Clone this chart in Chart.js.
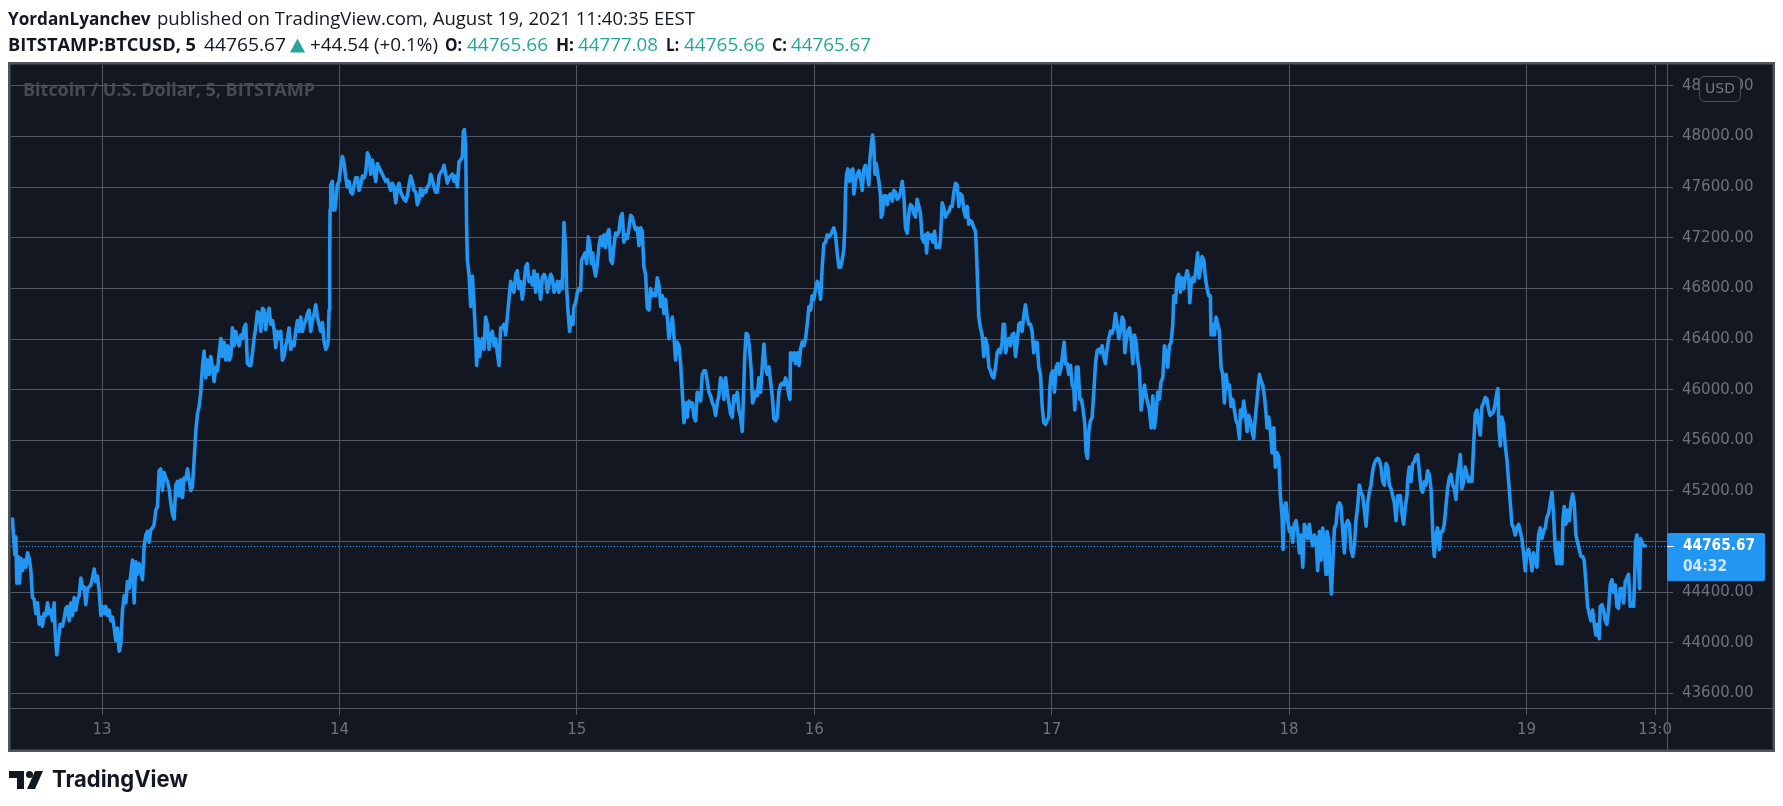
<!DOCTYPE html>
<html><head><meta charset="utf-8">
<style>html,body{margin:0;padding:0;background:#fff;overflow:hidden}canvas{display:block}</style>
<script src="https://cdn.jsdelivr.net/npm/chart.js@4.4.0/dist/chart.umd.min.js"></script>
</head><body>
<canvas id="c" width="1783" height="806"></canvas>
<script>
// ---- time axis (hours since 12 Aug 00:00) and BTCUSD prices ----
const timesA = [14.95,15.05,15.19,15.29,15.39,15.53,15.66,15.80,15.96,16.13,
16.30,16.47,16.64,16.81,16.97,17.14,17.31,17.48,17.65,17.82,
17.98,18.15,18.32,18.49,18.66,18.83,18.99,19.16,19.26,19.43,
19.60,19.77,20.01,20.17,20.34,20.51,20.68,20.85,21.02,21.18,
21.35,21.52,21.69,21.86,22.03,22.20,22.36,22.53,22.70,22.87,
23.04,23.21,23.37,23.54,23.71,23.88,24.05,24.22,24.38,24.55,
24.72,24.89,25.06,25.23,25.39,25.56,25.73,25.90,26.07,26.24,
26.41,26.57,26.74,26.91,27.08,27.25,27.42,27.58,27.75,27.92,
28.09,28.26,28.43,28.59,28.76,28.93,29.10,29.27,29.44,29.61,
29.77,29.94,30.11,30.28,30.45,30.62,30.78,30.95,31.12,31.29,
31.46,31.63,31.79,31.96,32.13,32.30,32.47,32.64,32.81,32.97,
33.14,33.31,33.48,33.65,33.82,33.98,34.15,34.32,34.49,34.66,
34.83,34.99,35.16,35.33,35.50,35.67,35.84,36.01,36.17,36.34,
36.51,36.68,36.85,37.02,37.18,37.35,37.52,37.69,37.86,38.03,
38.20,38.36,38.53,38.70,38.87,39.04,39.21,39.37,39.54,39.71,
39.88,40.05,40.22,40.38,40.55,40.72,40.89,41.06,41.23,41.40,
41.56,41.73,41.90];
const pricesA = [44979,44852,44697,44838,44471,44683,44471,44668,44570,44654,
44598,44711,44668,44570,44358,44344,44231,44316,44147,44203,
44133,44231,44217,44316,44231,44259,44175,44316,44090,43907,
44034,44147,44133,44189,44274,44288,44175,44316,44217,44358,
44259,44344,44372,44513,44429,44443,44302,44429,44443,44457,
44513,44584,44485,44527,44415,44217,44288,44231,44288,44217,
44259,44175,44203,44118,44020,44118,43935,43991,44259,44372,
44316,44485,44429,44542,44654,44316,44640,44542,44626,44570,
44499,44767,44852,44880,44795,44894,44908,44937,45049,45077,
45360,45374,45205,45345,45303,45275,45219,45106,45021,44979,
45247,45275,45162,45289,45148,45303,45289,45374,45289,45204,
45233,45444,45670,45811,45867,45980,46178,46305,46093,46234,
46121,46262,46178,46065,46178,46149,46291,46403,46262,46375,
46234,46347,46234,46262,46488,46347,46460,46389,46347,46432,
46403,46488,46516,46206,46192,46192,46291,46403,46488,46615,
46601,46460,46643,46629,46474,46573,46643,46516,46545,46474,
46333,46460,46403];

const timesB = [42.07,42.24,42.40,42.57,42.74,42.91,43.08,43.25,43.42,43.58,
43.75,43.92,44.09,44.26,44.43,44.59,44.76,44.93,45.10,45.27,
45.44,45.60,45.77,45.94,46.11,46.28,46.45,46.62,46.78,46.88,
46.95,47.02,47.05,47.12,47.29,47.39,47.54,47.66,47.79,47.96,
48.13,48.30,48.47,48.64,48.80,48.97,49.14,49.31,49.48,49.65,
49.82,49.98,50.15,50.32,50.49,50.66,50.83,50.99,51.16,51.33,
51.50,51.67,51.84,52.00,52.17,52.34,52.51,52.68,52.85,53.02,
53.18,53.35,53.52,53.69,53.86,54.03,54.19,54.36,54.53,54.70,
54.87,55.04,55.20,55.37,55.54,55.71,55.88,56.05,56.22,56.38,
56.55,56.72,56.89,57.06,57.23,57.39,57.56,57.73,57.90,58.07,
58.24,58.40,58.57,58.74,58.91,59.08,59.25,59.42,59.58,59.75,
59.92,60.09,60.26,60.43,60.53,60.63,60.76,60.86,60.93,61.10,
61.27,61.44,61.60,61.77,61.87,62.01,62.18,62.28,62.45,62.62,
62.78,62.95,63.12,63.29,63.46,63.63,63.79,63.96,64.13,64.30,
64.47,64.64,64.80,64.97,65.14,65.31,65.48,65.65,65.82,65.98,
66.15,66.32,66.49,66.66,66.83,66.99,67.16,67.33,67.50,67.67,
67.84,68.00,68.17,68.34,68.51,68.68,68.85,69.02,69.18,69.35,
69.52,69.69,69.86,70.03,70.19];
const pricesB = [46460,46234,46262,46347,46403,46488,46319,46375,46347,46460,
46545,46460,46573,46460,46516,46545,46601,46629,46460,46545,
46601,46671,46573,46516,46460,46530,46375,46319,46347,46403,
46629,47080,47419,47616,47645,47419,47419,47504,47616,47645,
47757,47842,47786,47673,47602,47645,47560,47546,47616,47673,
47673,47574,47616,47687,47673,47715,47870,47842,47701,47814,
47729,47645,47786,47757,47729,47701,47673,47645,47659,47616,
47574,47630,47602,47475,47588,47630,47560,47532,47504,47489,
47532,47616,47687,47645,47574,47560,47461,47504,47588,47532,
47574,47560,47602,47616,47701,47659,47602,47560,47560,47687,
47715,47729,47772,47701,47630,47673,47687,47701,47645,47687,
47602,47800,47814,47842,48040,48054,47927,47278,47024,46911,
46657,46897,46686,46403,46192,46403,46262,46347,46403,46319,
46573,46516,46319,46432,46460,46347,46403,46291,46192,46488,
46488,46516,46432,46573,46714,46855,46798,46770,46911,46939,
46798,46855,46714,46827,46968,46996,46855,46883,46827,46939,
46770,46911,46827,46714,46883,46911,46883,46770,46827,46911,
46883,46770,46798,46855,46770];

const timesC = [70.36,70.53,70.70,70.87,70.97,71.10,71.27,71.44,71.61,71.71,
71.88,72.05,72.22,72.38,72.48,72.65,72.82,72.99,73.16,73.33,
73.46,73.60,73.73,73.90,74.07,74.24,74.40,74.57,74.74,74.91,
75.08,75.25,75.41,75.58,75.75,75.92,76.09,76.26,76.43,76.59,
76.76,76.93,77.10,77.27,77.44,77.60,77.77,77.94,78.11,78.28,
78.45,78.61,78.78,78.95,79.12,79.29,79.46,79.63,79.79,79.96,
80.13,80.30,80.47,80.64,80.80,80.97,81.14,81.31,81.48,81.65,
81.81,81.98,82.15,82.32,82.49,82.66,82.83,82.99,83.16,83.33,
83.50,83.67,83.84,84.00,84.17,84.34,84.51,84.68,84.85,85.01,
85.18,85.35,85.52,85.69,85.86,86.03,86.19,86.36,86.53,86.70,
86.87,87.04,87.20,87.37,87.54,87.71,87.88,88.05,88.22,88.38,
88.55,88.72,88.89,88.99,89.12,89.29,89.46,89.63,89.76,89.90,
90.07,90.24,90.40,90.57,90.74,90.91,91.08,91.25,91.42,91.58,
91.75,91.92,92.09,92.26,92.42,92.59,92.76,92.93,93.10,93.27,
93.44,93.54,93.60,93.77,93.94,94.11,94.28,94.45,94.61,94.78,
94.95,95.12,95.29,95.46,95.63,95.79,95.96,96.13,96.30,96.47,
96.64,96.80,96.97,97.14,97.31,97.48,97.65,97.82,97.98,98.15,
98.32,98.49];
const pricesC = [46855,46798,47320,47109,46798,46629,46460,46573,46516,46657,
46686,46770,46798,46784,47024,47052,47080,46996,47207,47137,
46996,47080,46968,46897,46996,47137,47207,47137,47222,47123,
47236,47264,47024,46996,47137,47236,47222,47250,47363,47391,
47165,47222,47193,47278,47377,47363,47306,47264,47278,47137,
47278,47250,46968,46911,46643,46629,46798,46742,46756,46742,
46883,46827,46657,46742,46601,46714,46573,46403,46488,46573,
46432,46234,46375,46347,46206,45980,45740,45896,45783,45910,
45867,45896,45783,45754,45980,45924,45910,46121,46149,46149,
46065,45980,45952,45896,45867,45797,45896,45952,46093,46065,
45924,46093,45980,45896,45811,45783,45952,45910,45980,45839,
45783,45670,46065,46291,46446,46432,46319,46149,45896,45924,
45980,45952,46093,45980,46178,46361,46178,46121,46178,46065,
45952,45769,45754,45783,45980,46037,46051,46037,46093,46037,
45952,45924,46291,46234,46291,46206,46291,46192,46319,46375,
46347,46403,46516,46657,46629,46742,46714,46798,46855,46827,
46714,46968,47151,47165,47222,47207,47222,47250,47278,47222,
47080,46968];

const timesD = [98.66,98.82,98.99,99.09,99.16,99.26,99.40,99.57,99.73,99.90,
100.00,100.17,100.34,100.51,100.68,100.85,101.01,101.18,101.35,101.52,
101.62,101.76,101.89,102.02,102.13,102.26,102.36,102.53,102.70,102.77,
102.90,103.04,103.20,103.37,103.54,103.71,103.88,104.05,104.21,104.38,
104.55,104.72,104.89,105.06,105.22,105.39,105.56,105.73,105.90,106.07,
106.24,106.40,106.57,106.74,106.91,107.08,107.25,107.35,107.48,107.65,
107.82,107.99,108.16,108.32,108.49,108.66,108.76,108.93,109.10,109.27,
109.43,109.60,109.77,109.94,110.11,110.28,110.45,110.61,110.78,110.95,
111.12,111.29,111.46,111.62,111.79,111.96,112.13,112.30,112.40,112.53,
112.63,112.80,112.97,113.14,113.31,113.48,113.65,113.81,113.98,114.15,
114.32,114.49,114.66,114.82,114.99,115.09,115.23,115.36,115.50,115.67,
115.83,116.00,116.17,116.34,116.51,116.68,116.85,117.01,117.18,117.35,
117.52,117.69,117.86,118.02,118.19,118.36,118.53,118.70,118.87,119.04,
119.20,119.37,119.54,119.71,119.81,119.94,120.11,120.28,120.45,120.62,
120.79,120.95,121.12,121.26,121.39,121.56,121.73,121.90,122.07,122.24,
122.34,122.50,122.67,122.84,123.01,123.18,123.35,123.48,123.62,123.75,
123.92,124.09,124.26,124.43,124.59,124.76,124.93,125.10,125.27,125.43,
125.60,125.77,125.94,126.11,126.28,126.45,126.61,126.78];
const pricesD = [46968,47024,47109,47278,47560,47701,47743,47645,47729,47743,
47546,47645,47701,47729,47673,47574,47743,47772,47701,47616,
47814,47927,48011,47927,47701,47786,47729,47645,47532,47363,
47391,47532,47532,47461,47532,47546,47489,47574,47560,47504,
47518,47560,47645,47532,47278,47236,47391,47461,47447,47391,
47363,47504,47447,47391,47193,47165,47222,47080,47236,47193,
47222,47165,47250,47123,47137,47123,47193,47475,47433,47363,
47391,47405,47447,47447,47560,47630,47616,47447,47546,47532,
47419,47363,47447,47306,47334,47320,47278,47250,47080,46798,
46573,46488,46432,46262,46403,46347,46178,46149,46107,46093,
46178,46291,46319,46291,46375,46516,46516,46291,46375,46403,
46347,46432,46446,46262,46375,46516,46530,46460,46587,46671,
46573,46516,46516,46460,46291,46375,46375,46178,46121,45867,
45740,45726,45754,45783,46008,46121,46149,45980,46178,46206,
46121,46178,46291,46375,46206,46206,46121,46192,46037,46008,
45839,46178,46178,45924,45924,45839,45726,45501,45458,45670,
45754,45783,45980,46206,46305,46319,46291,46347,46262,46206,
46319,46403,46460,46446,46488,46601,46516,46403];

const timesE = [126.95,127.12,127.29,127.39,127.52,127.69,127.86,128.03,128.20,128.36,
128.53,128.70,128.87,129.04,129.21,129.38,129.54,129.71,129.88,130.05,
130.22,130.39,130.55,130.72,130.89,131.06,131.23,131.40,131.56,131.73,
131.90,132.07,132.24,132.34,132.51,132.68,132.84,133.01,133.18,133.35,
133.52,133.69,133.86,133.96,134.09,134.26,134.43,134.60,134.76,134.90,
135.03,135.20,135.37,135.54,135.71,135.88,136.04,136.11,136.28,136.45,
136.62,136.79,136.95,137.12,137.29,137.46,137.63,137.80,137.96,138.13,
138.30,138.47,138.64,138.81,138.98,139.08,139.24,139.41,139.58,139.75,
139.92,140.09,140.26,140.42,140.52,140.66,140.83,141.00,141.17,141.33,
141.50,141.67,141.77,141.94,142.11,142.28,142.45,142.61,142.78,142.95,
143.12,143.29,143.39,143.52,143.69,143.86,144.03,144.20,144.36,144.53,
144.70,144.87,145.04,145.21,145.38,145.54,145.71,145.88,146.05,146.22,
146.39,146.55,146.72,146.89,147.06,147.23,147.40,147.56,147.73,147.83,
148.00,148.17,148.27,148.41,148.58,148.74,148.91,149.08,149.25,149.42,
149.59,149.75,149.92,150.09,150.26,150.43,150.60,150.76,150.93,151.10,
151.27,151.44,151.61,151.78,151.94,152.11,152.28,152.45,152.62,152.79,
152.95,153.12,153.29,153.46,153.63,153.80,153.97,154.13,154.30,154.47,
154.64,154.81,154.98,155.14];
const pricesE = [46460,46573,46545,46291,46375,46460,46488,46403,46206,46432,
46375,46234,46149,45839,45952,46037,45952,45896,45839,45698,
45952,45698,45811,45980,45924,46065,46093,46347,46291,46178,
46347,46375,46516,46742,46686,46883,46911,46770,46883,46798,
46883,46939,46883,46686,46827,46883,46855,46968,47080,46883,
46939,47052,47024,46883,46798,46742,46742,46432,46516,46432,
46573,46516,46460,46178,46121,45896,46121,46008,46037,45867,
45924,45839,45754,45726,45613,45839,45783,45910,45811,45670,
45797,45754,45670,45613,45726,45839,45980,46121,46065,46037,
45952,45811,45698,45783,45670,45501,45698,45388,45501,45472,
45162,44993,44739,45077,45106,44965,44880,44908,44795,44937,
44965,44880,44711,44852,44598,44937,44908,44824,44937,44824,
44767,44852,44824,44570,44880,44654,44908,44739,44542,44880,
44824,44542,44386,44626,44908,44937,45077,45106,45077,44880,
44711,44937,44965,44937,44739,44683,44767,44965,45077,45247,
45190,45162,45049,44922,45106,45190,45247,45360,45416,45444,
45458,45444,45388,45275,45247,45416,45388,45247,45219,45162,
45106,44965,45162,45134];

const timesF = [155.24,155.41,155.58,155.75,155.91,156.01,156.15,156.32,156.49,156.65,
156.82,156.99,157.16,157.33,157.50,157.67,157.83,158.00,158.17,158.34,
158.44,158.54,158.68,158.84,159.01,159.18,159.35,159.52,159.69,159.85,
160.02,160.19,160.36,160.53,160.70,160.87,161.03,161.20,161.30,161.47,
161.64,161.81,161.98,162.15,162.31,162.48,162.65,162.82,162.99,163.16,
163.32,163.49,163.66,163.83,164.00,164.17,164.33,164.50,164.67,164.84,
165.01,165.11,165.21,165.35,165.51,165.68,165.85,166.02,166.19,166.36,
166.52,166.69,166.86,167.03,167.20,167.37,167.53,167.70,167.87,168.04,
168.21,168.38,168.55,168.71,168.88,169.05,169.22,169.39,169.56,169.72,
169.89,170.06,170.23,170.40,170.57,170.73,170.90,171.07,171.24,171.41,
171.58,171.68,171.81,171.98,172.15,172.32,172.49,172.66,172.82,172.99,
173.16,173.33,173.50,173.67,173.83,174.00,174.17,174.34,174.51,174.68,
174.85,175.01,175.18,175.35,175.45,175.62,175.79,175.96,176.12,176.29,
176.46,176.63,176.80,176.97,177.13,177.30,177.47,177.64,177.81,177.98,
178.15,178.31,178.48,178.65,178.82,178.92,179.02,179.16,179.32,179.43,
179.53,179.66,179.83,180.00];
const pricesF = [45162,45021,44937,45077,45162,45303,45388,45275,45416,45430,
45472,45487,45360,45219,45190,45275,45247,45360,45331,45219,
45049,44824,44683,44852,44908,44739,44880,44880,44937,45077,
45219,45303,45331,45247,45219,45134,45331,45416,45487,45219,
45275,45388,45331,45275,45303,45275,45557,45811,45839,45726,
45642,45867,45896,45938,45924,45839,45797,45811,45825,45896,
45980,46008,45698,45557,45783,45726,45557,45444,45275,45106,
44937,44908,44852,44908,44937,44880,44824,44711,44570,44711,
44739,44683,44570,44711,44654,44598,44852,44908,44824,44880,
44908,44993,45021,45106,45190,45021,44739,44626,44795,44626,
44626,44965,45077,44937,45049,44965,45106,45176,45106,44852,
44795,44739,44683,44683,44654,44485,44288,44231,44175,44259,
44147,44062,44147,44034,44288,44302,44259,44175,44147,44259,
44457,44499,44401,44457,44288,44274,44429,44429,44316,44485,
44513,44542,44288,44316,44288,44485,44795,44852,44626,44429,
44824,44795,44767,44765.67];

// ---- axes / labels ----
const yTicks = [43600,44000,44400,44800,45200,45600,46000,46400,46800,47200,47600,48000,48400];
const xTickHours = [24,48,72,96,120,144,168,181];
const xTickLabels = ['13','14','15','16','17','18','19','13:0'];
const lastPrice = 44765.67;
const countdown = '04:32';

const times = [].concat(timesA,timesB,timesC,timesD,timesE,timesF);
const prices = [].concat(pricesA,pricesB,pricesC,pricesD,pricesE,pricesF);

// ---- styling ----
const W = 1783, H = 806;
const BG = '#131722', GRID = '#545863', TXT = '#6f727d', BLUE = '#2196f3', TEAL = '#26a69a', INK = '#131722';
const AX = 'DejaVu Sans';

function fitText(ctx, text, x, y, w, font, color){
  ctx.save(); ctx.font = font; ctx.fillStyle = color; ctx.textBaseline = 'middle'; ctx.textAlign = 'left';
  const m = ctx.measureText(text).width;
  ctx.translate(x, y); ctx.scale(w / m, 1); ctx.fillText(text, 0, 0); ctx.restore();
}
function rr(ctx, x, y, w, h, r){
  ctx.beginPath(); ctx.moveTo(x+r,y); ctx.lineTo(x+w-r,y); ctx.arcTo(x+w,y,x+w,y+r,r);
  ctx.lineTo(x+w,y+h-r); ctx.arcTo(x+w,y+h,x+w-r,y+h,r); ctx.lineTo(x+r,y+h);
  ctx.arcTo(x,y+h,x,y+h-r,r); ctx.lineTo(x,y+r); ctx.arcTo(x,y,x+r,y,r); ctx.closePath();
}

const deco = {
  id: 'deco',
  beforeDraw(chart){
    const ctx = chart.ctx; ctx.save();
    ctx.fillStyle = '#ffffff'; ctx.fillRect(0,0,W,H);
    ctx.fillStyle = BG; ctx.fillRect(10,64,1763,686);
    ctx.restore();
  },
  beforeDatasetsDraw(chart){
    const ctx = chart.ctx, ca = chart.chartArea, ys = chart.scales.y;
    fitText(ctx, 'Bitcoin / U.S. Dollar, 5, BITSTAMP', 23, 91, 292, 'bold 18px "Open Sans"', '#464a55');
    const py = Math.round(ys.getPixelForValue(lastPrice)) + 0.5;
    ctx.save(); ctx.strokeStyle = BLUE; ctx.lineWidth = 1; ctx.setLineDash([1,2]);
    ctx.beginPath(); ctx.moveTo(ca.left, py); ctx.lineTo(ca.right, py); ctx.stroke(); ctx.restore();
  },
  afterDraw(chart){
    const ctx = chart.ctx, ca = chart.chartArea, ys = chart.scales.y;
    ctx.save();
    ctx.strokeStyle = GRID; ctx.lineWidth = 1;
    ctx.beginPath(); ctx.moveTo(10, ca.bottom + 0.5); ctx.lineTo(1773, ca.bottom + 0.5); ctx.stroke();
    ctx.beginPath(); ctx.moveTo(ca.right + 0.5, 64); ctx.lineTo(ca.right + 0.5, 750); ctx.stroke();
    ctx.strokeStyle = '#50545f'; ctx.lineWidth = 2.5;
    ctx.strokeRect(9.25, 63.25, 1764.5, 687.5);
    const py = Math.round(ys.getPixelForValue(lastPrice)) + 0.5;
    ctx.fillStyle = BLUE; rr(ctx, ca.right, py - 13.5, 98, 48, 2); ctx.fill();
    ctx.strokeStyle = '#ffffff'; ctx.lineWidth = 1;
    ctx.beginPath(); ctx.moveTo(ca.right, py); ctx.lineTo(ca.right + 7, py); ctx.stroke();
    fitText(ctx, lastPrice.toFixed(2), 1683, py, 72, 'bold 15px "DejaVu Sans"', '#ffffff');
    fitText(ctx, countdown, 1683, py + 21, 44, 'bold 15px "DejaVu Sans"', '#cfe6fb');
    ctx.fillStyle = BG; rr(ctx, 1699.5, 76.5, 41, 25, 5); ctx.fill();
    ctx.strokeStyle = '#4e525d'; ctx.lineWidth = 1; ctx.stroke();
    ctx.fillStyle = '#777a85'; ctx.font = '14px "DejaVu Sans"'; ctx.textAlign = 'center'; ctx.textBaseline = 'middle';
    ctx.fillText('USD', 1720, 89.5);
    ctx.restore();
    // header
    fitText(ctx, 'YordanLyanchev', 8, 19.5, 142.5, 'bold 18px "Open Sans"', INK);
    fitText(ctx, 'published on TradingView.com, August 19, 2021 11:40:35 EEST', 157, 19.5, 538, '18px "Open Sans"', INK);
    fitText(ctx, 'BITSTAMP:BTCUSD, 5', 8, 45.5, 188, 'bold 18px "Open Sans"', INK);
    fitText(ctx, '44765.67', 204, 45.5, 82, '18px "Open Sans"', INK);
    ctx.save(); ctx.fillStyle = TEAL; ctx.beginPath(); ctx.moveTo(290,52.5); ctx.lineTo(305,52.5); ctx.lineTo(297.5,38.5); ctx.closePath(); ctx.fill(); ctx.restore();
    fitText(ctx, '+44.54 (+0.1%)', 310, 45.5, 128, '18px "Open Sans"', INK);
    fitText(ctx, 'O:', 445, 45.5, 17, 'bold 18px "Open Sans"', INK);
    fitText(ctx, '44765.66', 467, 45.5, 81, '18px "Open Sans"', TEAL);
    fitText(ctx, 'H:', 556, 45.5, 18, 'bold 18px "Open Sans"', INK);
    fitText(ctx, '44777.08', 578, 45.5, 80, '18px "Open Sans"', TEAL);
    fitText(ctx, 'L:', 666, 45.5, 13, 'bold 18px "Open Sans"', INK);
    fitText(ctx, '44765.66', 684, 45.5, 81, '18px "Open Sans"', TEAL);
    fitText(ctx, 'C:', 772, 45.5, 15, 'bold 18px "Open Sans"', INK);
    fitText(ctx, '44765.67', 791, 45.5, 80, '18px "Open Sans"', TEAL);
    // footer logo
    ctx.save(); ctx.fillStyle = INK;
    ctx.fillRect(9, 771, 15, 7); ctx.fillRect(17, 771, 7, 18);
    ctx.beginPath(); ctx.arc(29.5, 774.5, 3.5, 0, Math.PI*2); ctx.fill();
    ctx.beginPath(); ctx.moveTo(35,771); ctx.lineTo(43,771); ctx.lineTo(35,789); ctx.lineTo(27,789); ctx.closePath(); ctx.fill();
    ctx.restore();
    fitText(ctx, 'TradingView', 52, 780, 136, 'bold 23px "Inter"', INK);
  }
};

new Chart(document.getElementById('c'), {
  type: 'line',
  data: { datasets: [{
    data: times.map((t,i) => ({x: t, y: prices[i]})),
    borderColor: BLUE, borderWidth: 3.6, pointRadius: 0, tension: 0, fill: false,
    borderJoinStyle: 'round', borderCapStyle: 'round'
  }]},
  options: {
    responsive: false, animation: false, devicePixelRatio: 1,
    layout: { padding: { left: 11, right: 10, top: 65, bottom: 56 } },
    plugins: { legend: { display: false }, tooltip: { enabled: false } },
    scales: {
      x: {
        type: 'linear', position: 'bottom', min: 14.8, max: 182.2,
        afterBuildTicks: s => { s.ticks = xTickHours.map(v => ({value: v})); },
        afterFit: s => { s.height = 42; },
        grid: { color: GRID, lineWidth: 1, drawTicks: true, tickLength: 7, tickColor: GRID },
        border: { display: false },
        ticks: { color: TXT, font: { family: AX, size: 15 }, padding: 6, maxRotation: 0, autoSkip: false,
                 callback: (v, i) => xTickLabels[i] }
      },
      y: {
        type: 'linear', position: 'right', min: 43486, max: 48564,
        afterBuildTicks: s => { s.ticks = yTicks.map(v => ({value: v})); },
        afterFit: s => { s.width = 106; },
        grid: { color: GRID, lineWidth: 1, tickLength: 6, tickColor: GRID },
        border: { display: false },
        ticks: { color: TXT, font: { family: AX, size: 15 }, padding: 9, autoSkip: false,
                 callback: v => Number(v).toFixed(2) }
      }
    }
  },
  plugins: [deco]
});
</script>
</body></html>
